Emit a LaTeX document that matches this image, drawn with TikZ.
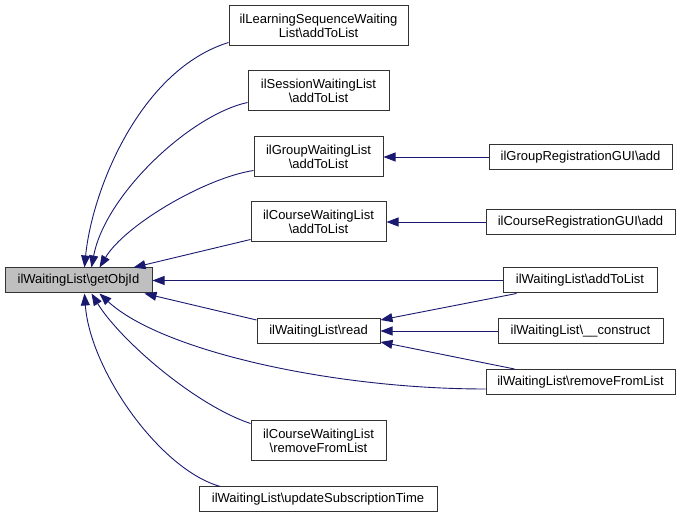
\documentclass[tikz,border=0pt]{standalone}
\usepackage{fontspec}
\setmainfont{Liberation Sans}
\usetikzlibrary{positioning,calc,arrows.meta}
\definecolor{edgeblue}{HTML}{191970}
\definecolor{nodegray}{HTML}{BFBFBF}
\definecolor{boxline}{HTML}{333333}
\tikzset{
  fn/.style={draw=boxline, line width=1pt, fill=white, inner sep=0pt, minimum height=25pt, align=center, font=\fontsize{13}{14}\selectfont},
  fntwo/.style={fn, minimum height=40pt},
  call/.style={draw=edgeblue, line width=0.9pt, ->, >={Triangle[length=12pt,width=9pt]}},
}

\begin{document}
\begin{tikzpicture}[x=1pt,y=-1pt]
	\useasboundingbox (0,0) rectangle (681,518);
	% called function
	\node[fn, fill=nodegray, minimum width=147pt] (getobjid) at (78.5,280.5) {ilWaitingList\textbackslash getObjId};
	% middle column
	\node[fntwo, minimum width=179pt] (lswladd) at (318.5,26) {ilLearningSequenceWaiting\\List\textbackslash addToList};
	\node[fntwo, minimum width=141pt] (swladd) at (318.5,91) {ilSessionWaitingList\\\textbackslash addToList};
	\node[fntwo, minimum width=129pt] (gwladd) at (318.5,157) {ilGroupWaitingList\\\textbackslash addToList};
	\node[fntwo, minimum width=135pt] (cwladd) at (318.5,222) {ilCourseWaitingList\\\textbackslash addToList};
	\node[fn, minimum width=123pt] (wlread) at (318.5,331) {ilWaitingList\textbackslash read};
	\node[fntwo, minimum width=135pt] (cwlrem) at (318.5,441) {ilCourseWaitingList\\\textbackslash removeFromList};
	\node[fn, minimum width=238pt] (wlupd) at (318,499.5) {ilWaitingList\textbackslash updateSubscriptionTime};
	% right column
	\node[fn, minimum width=183pt] (grgadd) at (580.5,157) {ilGroupRegistrationGUI\textbackslash add};
	\node[fn, minimum width=189pt] (crgadd) at (580.5,222) {ilCourseRegistrationGUI\textbackslash add};
	\node[fn, minimum width=154pt] (wladd) at (580,280.5) {ilWaitingList\textbackslash addToList};
	\node[fn, minimum width=165pt] (wlcon) at (580.5,331) {ilWaitingList\textbackslash\_\_construct};
	\node[fn, minimum width=189pt] (wlrem) at (580.5,382) {ilWaitingList\textbackslash removeFromList};

	% calls into getObjId
	\draw[call] ($(lswladd.south west)+(0,-4)$) .. controls (140,70) and (92,190) .. ($(getobjid.north west)+(80,0)$);
	\draw[call] ($(swladd.south west)+(0,-9)$) .. controls (190,115) and (105,195) .. ($(getobjid.north west)+(87,0)$);
	\draw[call] ($(gwladd.south west)+(0,-7)$) .. controls (205,178) and (125,225) .. ($(getobjid.north west)+(95,0)$);
	\draw[call] ($(cwladd.south west)+(0,-3)$) -- ($(getobjid.north west)+(129,0)$);
	\draw[call] (wladd.west) -- (getobjid.east);
	\draw[call] ($(wlread.north west)+(0,2)$) -- ($(getobjid.south west)+(140,0)$);
	\draw[call] ($(wlrem.west)+(0,7)$) .. controls (330,389) and (160,350) .. ($(getobjid.south west)+(95,0)$);
	\draw[call] ($(cwlrem.north west)+(0,3)$) .. controls (195,405) and (120,340) .. ($(getobjid.south west)+(87,0)$);
	\draw[call] ($(wlupd.north west)+(22,0)$) .. controls (160,470) and (90,370) .. ($(getobjid.south west)+(80,0)$);

	% second level calls
	\draw[call] (grgadd.west) -- (gwladd.east);
	\draw[call] (crgadd.west) -- (cwladd.east);
	\draw[call] ($(wladd.south west)+(14,0)$) -- ($(wlread.north east)+(0,2)$);
	\draw[call] (wlcon.west) -- (wlread.east);
	\draw[call] ($(wlrem.north west)+(29,0)$) -- ($(wlread.south east)+(0,-2)$);
\end{tikzpicture}
\end{document}
